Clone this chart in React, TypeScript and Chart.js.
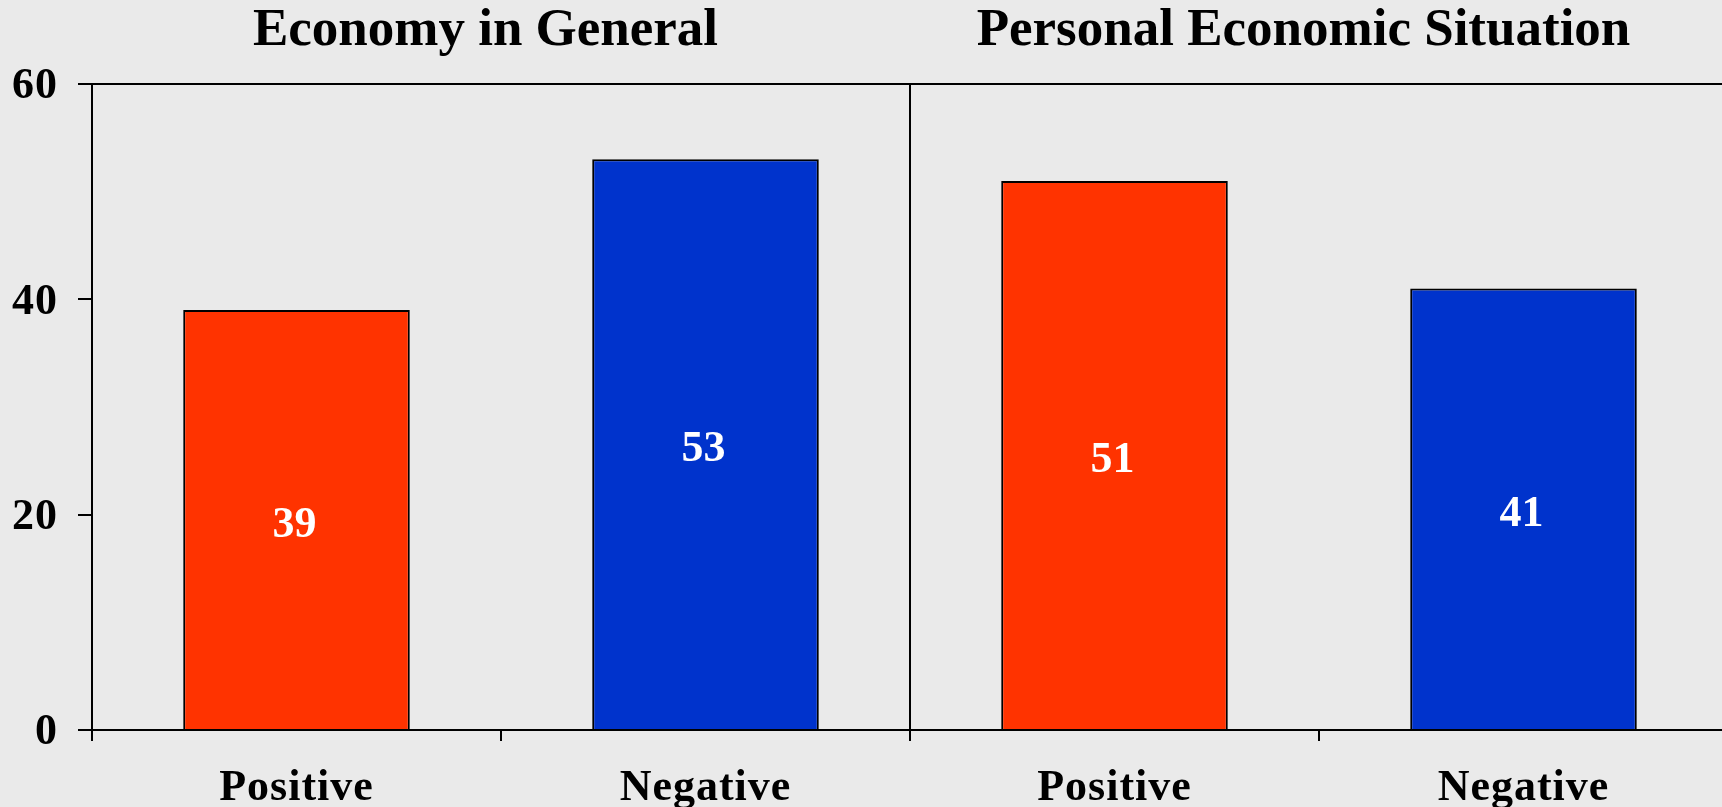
import React, { useEffect, useRef } from "react";
import { Chart, registerables } from "chart.js";

Chart.register(...registerables);

// Survey results: share of respondents rating each item positive/negative
const categories = ["Positive", "Negative", "Positive", "Negative"];
const values = [39, 53, 51, 41];
const barColors = ["#FF3300", "#0033CC", "#FF3300", "#0033CC"];
const panelTitles = ["Economy in General", "Personal Economic Situation"];
const yTicks = [0, 20, 40, 60];

const SERIF = '"Liberation Serif", "Times New Roman", serif';
const CLEAR = "rgba(0,0,0,0)";

// Slightly looser lettering for the axis labels only
const axisSpacingPlugin = {
  id: "axisSpacing",
  beforeDraw(chart: any) {
    chart.ctx.letterSpacing = "1px";
  },
  beforeDatasetsDraw(chart: any) {
    chart.ctx.letterSpacing = "0px";
  },
};

// Value printed in the middle of each bar
const valueLabelPlugin = {
  id: "valueLabels",
  afterDatasetsDraw(chart: any) {
    const { ctx } = chart;
    const meta = chart.getDatasetMeta(0);
    ctx.save();
    ctx.fillStyle = "#FFFFFF";
    ctx.font = `bold 44px ${SERIF}`;
    ctx.textAlign = "center";
    ctx.textBaseline = "alphabetic";
    meta.data.forEach((bar: any, i: number) => {
      const mid = (bar.y + bar.base) / 2;
      ctx.fillText(String(values[i]), bar.x - 2, mid + 17);
    });
    ctx.restore();
  },
};

// One heading over each pair of bars
const panelTitlePlugin = {
  id: "panelTitles",
  afterDraw(chart: any) {
    const { ctx } = chart;
    const x = chart.scales.x;
    ctx.save();
    ctx.letterSpacing = "0px";
    ctx.fillStyle = "#000000";
    ctx.font = `bold 53px ${SERIF}`;
    ctx.textAlign = "center";
    ctx.textBaseline = "alphabetic";
    panelTitles.forEach((title, p) => {
      const cx = (x.getPixelForValue(p * 2) + x.getPixelForValue(p * 2 + 1)) / 2 - 15.5;
      ctx.fillText(title, cx, 45);
    });
    ctx.restore();
  },
};

export default function App() {
  const canvasRef = useRef<HTMLCanvasElement | null>(null);

  useEffect(() => {
    if (!canvasRef.current) return;
    const chart = new Chart(canvasRef.current, {
      type: "bar",
      data: {
        labels: categories,
        datasets: [
          {
            data: values,
            backgroundColor: barColors,
            borderColor: "#000000",
            borderWidth: 2,
            categoryPercentage: 1,
            barPercentage: 0.554,
          },
        ],
      },
      options: {
        responsive: false,
        animation: false,
        layout: { padding: { top: 84, left: 0, right: 2, bottom: 0 } },
        plugins: {
          legend: { display: false },
          title: { display: false },
          tooltip: { enabled: false },
        },
        scales: {
          x: {
            type: "category",
            offset: true,
            grid: {
              offset: true,
              drawOnChartArea: true,
              color: (c: any) => (c.index === 2 ? "#000000" : CLEAR),
              lineWidth: 2,
              tickColor: "#000000",
              tickWidth: 2,
              tickLength: 11,
            },
            border: { display: true, color: "#000000", width: 2 },
            ticks: {
              color: "#000000",
              font: { family: SERIF, size: 44, weight: "bold" },
              padding: 21,
              autoSkip: false,
              maxRotation: 0,
              minRotation: 0,
            },
            afterFit: (scale: any) => {
              scale.height = 77;
            },
          },
          y: {
            min: 0,
            max: 60,
            afterBuildTicks: (scale: any) => {
              scale.ticks = yTicks.map((v) => ({ value: v }));
            },
            grid: {
              color: (c: any) => (c.tick && c.tick.value === 60 ? "#000000" : CLEAR),
              lineWidth: 2,
              tickColor: "#000000",
              tickWidth: 2,
              tickLength: 14,
            },
            border: { display: true, color: "#000000", width: 2 },
            ticks: {
              color: "#000000",
              font: { family: SERIF, size: 44, weight: "bold" },
              padding: 20,
              labelOffset: 3,
            },
            afterFit: (scale: any) => {
              scale.width = 92;
            },
          },
        },
      },
      plugins: [axisSpacingPlugin, valueLabelPlugin, panelTitlePlugin],
    });
    return () => chart.destroy();
  }, []);

  return (
    <div
      style={{
        position: "fixed",
        left: 0,
        top: 0,
        width: 1722,
        height: 807,
        overflow: "hidden",
        background: "#EAEAEA",
      }}
    >
      <canvas
        ref={canvasRef}
        width={1730}
        height={807}
        style={{ display: "block", width: 1730, height: 807 }}
      />
    </div>
  );
}
